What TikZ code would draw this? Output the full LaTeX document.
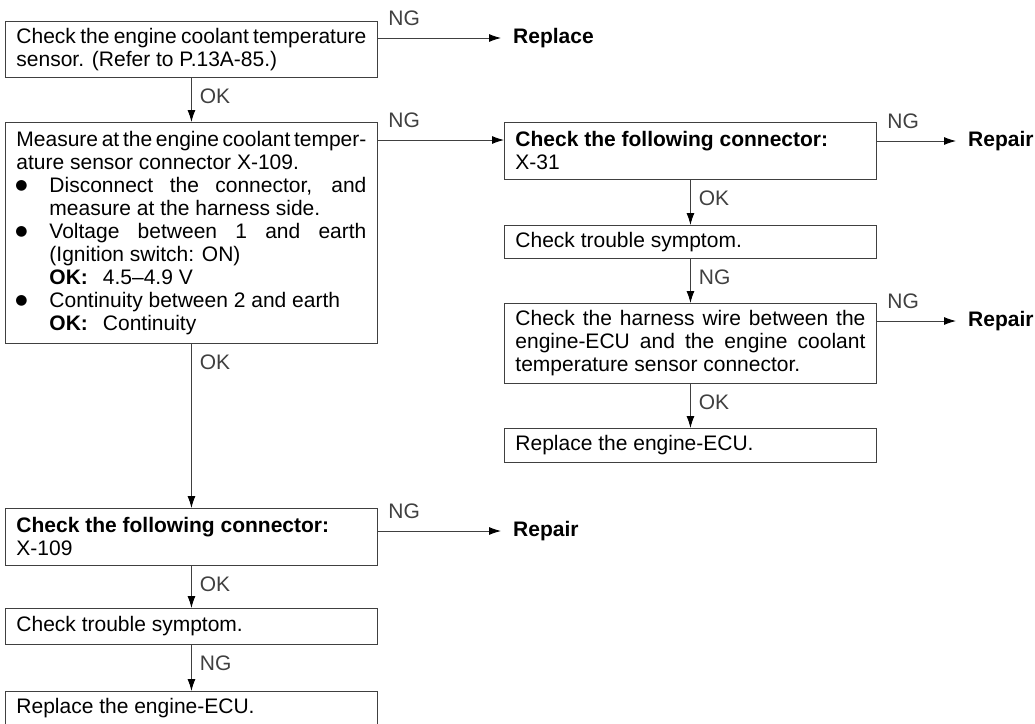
\documentclass[tikz,border=0pt]{standalone}
\usepackage{fontspec}
\setmainfont{Liberation Sans}
\newfontfamily\dotfont{DejaVu Sans}
\usetikzlibrary{arrows.meta}

\hyphenpenalty=10000
\exhyphenpenalty=10000
\setlength{\parindent}{0pt}
% bullet item with hanging indent
\newcommand{\bitem}{\par\hangindent=33pt\hangafter=1\noindent\makebox[33pt][l]{\hspace{-1pt}\raisebox{2.5pt}{\dotfont\fontsize{14}{14}\selectfont ●}}}

\begin{document}
\begin{tikzpicture}[x=1pt,y=-1pt,
 box/.style={draw=black!75,line width=0.9pt,anchor=north west,text width=350pt,inner xsep=11pt,inner ysep=4pt,align=justify},
 outcome/.style={anchor=west,inner xsep=12pt,inner ysep=0pt,font=\fontsize{21}{23}\selectfont\bfseries},
 hlbl/.style={anchor=south west,inner sep=0pt,xshift=10pt,yshift=12pt},
 vlbl/.style={anchor=north west,inner sep=0pt,xshift=8pt,yshift=-10pt},
 arr/.style={-{Latex[length=12pt,width=8pt,color=black]},black!75,line width=0.9pt},
 font=\fontsize{21}{23}\selectfont]
\useasboundingbox (0,0) rectangle (1035,723);
% left column
\node[box,minimum height=56pt] (chk) at (5,21) {Check the engine coolant temperature\linebreak sensor. (Refer to P.13A-85.)};
\node[box,minimum height=221pt] (meas) at (5,122) {{\spaceskip=0.2em plus 0.1em minus 0.1em Measure at the engine coolant temper-}\linebreak ature sensor connector X-109.
\bitem Disconnect the connector, and\linebreak measure at the harness side.
\bitem Voltage between 1 and earth\linebreak (Ignition switch: ON)\newline \textbf{OK:}\hspace{15pt}4.5\textendash 4.9~V
\bitem Continuity between 2 and earth\newline \textbf{OK:}\hspace{15pt}Continuity\par};
\node[box,minimum height=57pt] (xb) at (5,508) {\textbf{Check the following connector:}\newline X-109};
\node[box,minimum height=36pt] (sym2) at (5,608) {Check trouble symptom.};
\node[box,minimum height=34pt] (ecu2) at (5,691) {Replace the engine-ECU.};
% right column
\node[box,minimum height=57pt] (xa) at (504,122) {\textbf{Check the following connector:}\newline X-31};
\node[box,minimum height=33pt] (sym1) at (504,225) {Check trouble symptom.};
\node[box,minimum height=80pt] (hrn) at (504,303) {Check the harness wire between the\linebreak engine-ECU and the engine coolant\linebreak temperature sensor connector.};
\node[box,minimum height=34pt] (ecu1) at (504,428) {Replace the engine-ECU.};
% outcomes
\node[outcome] (rpl) at (501,38) {Replace};
\node[outcome] (rp1) at (956,141) {Repair};
\node[outcome] (rp2) at (956,321) {Repair};
\node[outcome] (rp3) at (501,531) {Repair};
% vertical links
\draw[arr] (chk.south) -- (meas.north) node[vlbl,pos=0] {OK};
\draw[arr] (meas.south) -- (xb.north) node[vlbl,pos=0] {OK};
\draw[arr] (xb.south) -- (sym2.north) node[vlbl,pos=0] {OK};
\draw[arr] (sym2.south) -- (ecu2.north) node[vlbl,pos=0] {NG};
\draw[arr] (xa.south) -- (sym1.north) node[vlbl,pos=0] {OK};
\draw[arr] (sym1.south) -- (hrn.north) node[vlbl,pos=0] {NG};
\draw[arr] (hrn.south) -- (ecu1.north) node[vlbl,pos=0] {OK};
% horizontal links
\draw[arr] (rpl.west -| chk.east) -- (rpl.west) node[hlbl,pos=0] {NG};
\draw[arr] ([yshift=-18pt]xa.north west -| meas.east) -- ([yshift=-18pt]xa.north west) node[hlbl,pos=0] {NG};
\draw[arr] (rp1.west -| xa.east) -- (rp1.west) node[hlbl,pos=0] {NG};
\draw[arr] (rp2.west -| hrn.east) -- (rp2.west) node[hlbl,pos=0] {NG};
\draw[arr] (rp3.west -| xb.east) -- (rp3.west) node[hlbl,pos=0] {NG};
\end{tikzpicture}
\end{document}
